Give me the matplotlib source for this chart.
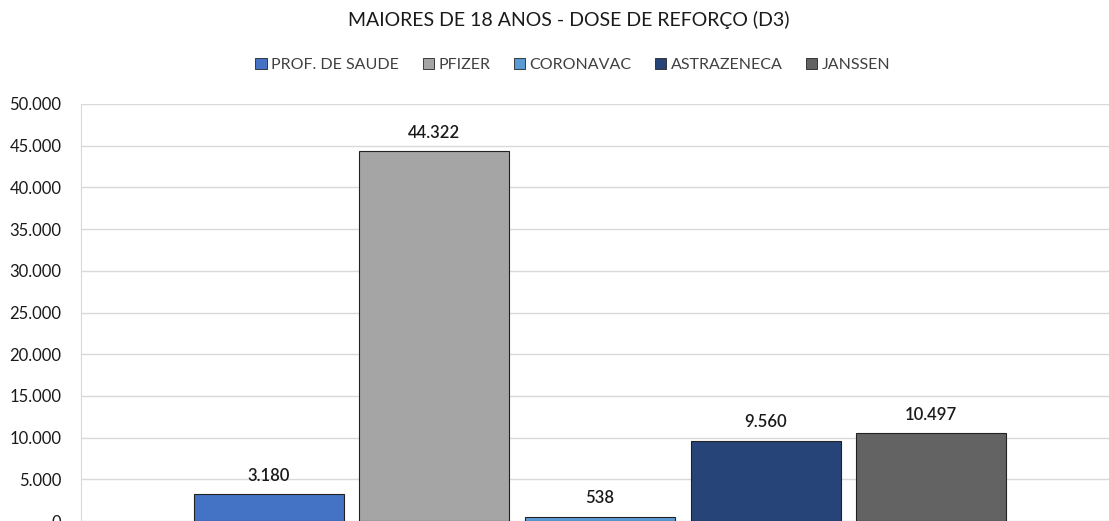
import matplotlib
matplotlib.use('Agg')
import matplotlib.pyplot as plt
from matplotlib.patches import Patch
from matplotlib.ticker import FuncFormatter, MultipleLocator

# Data
series = ['PROF. DE SAUDE', 'PFIZER', 'CORONAVAC', 'ASTRAZENECA', 'JANSSEN']
values = [3180, 44322, 538, 9560, 10497]
colors = ['#4472C4', '#A5A5A5', '#5B9BD5', '#264478', '#636363']


def fmt_thousands(v, pos=None):
    return f'{int(round(v)):,}'.replace(',', '.')


plt.rcParams['font.family'] = ['Lato', 'DejaVu Sans']

fig = plt.figure(figsize=(11.09, 5.21), dpi=100)
ax = fig.add_axes([81 / 1109, 0.0, 1038 / 1109, (521 - 104) / 521])

positions = list(range(len(series)))
bars = ax.bar(positions, values, width=0.905, color=colors,
              edgecolor='#222222', linewidth=0.8, zorder=3)

# value labels above bars
for bar, v in zip(bars, values):
    ax.text(bar.get_x() + bar.get_width() / 2, v + 1300, fmt_thousands(v),
            ha='center', va='bottom', fontsize=12, color='#1a1a1a',
            fontweight='semibold')

ax.set_xlim(-1.134, 5.134)
ax.set_ylim(0, 50000)
ax.yaxis.set_major_locator(MultipleLocator(5000))
ax.yaxis.set_major_formatter(FuncFormatter(fmt_thousands))
ax.tick_params(axis='y', length=0, labelsize=12, labelcolor='#1a1a1a', pad=14)
ax.set_xticks([])

ax.grid(axis='y', color='#D9D9D9', linewidth=1, zorder=0)
for side in ['top', 'right', 'bottom']:
    ax.spines[side].set_visible(False)
ax.spines['left'].set_color('#D9D9D9')

fig.text(569 / 1109, 1 - 20 / 521, 'MAIORES DE 18 ANOS - DOSE DE REFORÇO (D3)',
         ha='center', va='center', fontsize=14, color='#1a1a1a')

handles = [Patch(facecolor=c, edgecolor='#222222', linewidth=0.6) for c in colors]
fig.legend(handles, series, loc='center', bbox_to_anchor=(573 / 1109, 1 - 65 / 521),
           ncol=5, frameon=False, fontsize=11.5, handlelength=0.7, handleheight=0.7,
           handletextpad=0.3, columnspacing=1.45, labelcolor='#404040')

fig.savefig('out.png', dpi=100)
plt.close(fig)
